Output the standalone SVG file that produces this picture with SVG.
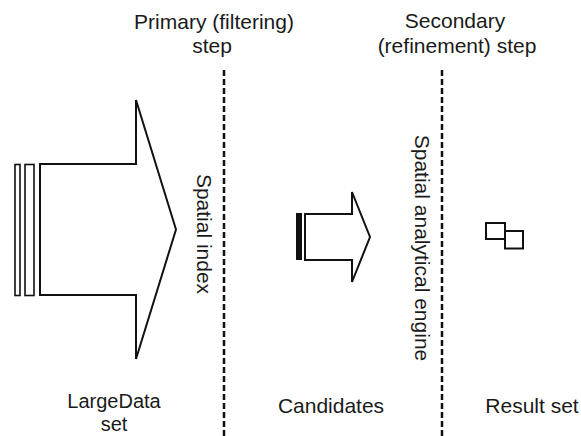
<svg xmlns="http://www.w3.org/2000/svg" width="581" height="436" viewBox="0 0 581 436">
  <style>
    .lbl { font-family: "Liberation Sans", Arial, sans-serif; font-size: 21px; fill: #1a1a1a; text-anchor: middle; }
    .tight { font-size: 20px; }
    .shape { fill: none; stroke: #111; stroke-width: 2; stroke-linejoin: miter; }
    .thin { fill: none; stroke: #111; stroke-width: 1.6; }
    .divider { fill: none; stroke: #111; stroke-width: 2.5; stroke-dasharray: 6 3; }
  </style>
  <rect width="581" height="436" fill="#ffffff"/>

  <g id="headers">
    <text class="lbl" x="214" y="29">Primary (filtering)</text>
    <text class="lbl" x="212" y="53">step</text>
    <text class="lbl" x="455" y="28">Secondary</text>
    <text class="lbl" x="457" y="53">(refinement) step</text>
  </g>

  <g id="connectors">
    <line class="divider" x1="224" y1="70" x2="224" y2="436"/>
    <line class="divider" x1="442" y1="70" x2="442" y2="436"/>
  </g>

  <g id="large-data">
    <rect class="thin" x="15" y="164.5" width="5" height="131"/>
    <rect class="thin" x="25" y="164.5" width="9" height="131"/>
    <polygon class="shape" points="40,164 136,164 136,100 176,229.5 136,359 136,295 40,295"/>
    <text class="lbl tight" x="114" y="408">LargeData</text>
    <text class="lbl tight" x="114" y="431">set</text>
  </g>

  <g id="spatial-index">
    <text class="lbl" transform="translate(197,234) rotate(90)">Spatial index</text>
  </g>

  <g id="candidates">
    <rect x="296" y="213" width="6" height="47" fill="#111"/>
    <polygon class="shape" points="305,214 352,214 352,192 370,237 352,282 352,260 305,260"/>
    <text class="lbl" x="331" y="413">Candidates</text>
  </g>

  <g id="spatial-engine">
    <text class="lbl" transform="translate(415,248) rotate(90)">Spatial analytical engine</text>
  </g>

  <g id="result-set">
    <rect class="shape" x="486" y="223" width="19" height="16"/>
    <rect class="shape" x="505" y="231" width="18" height="17.5"/>
    <text class="lbl" x="532" y="413">Result set</text>
  </g>
</svg>
